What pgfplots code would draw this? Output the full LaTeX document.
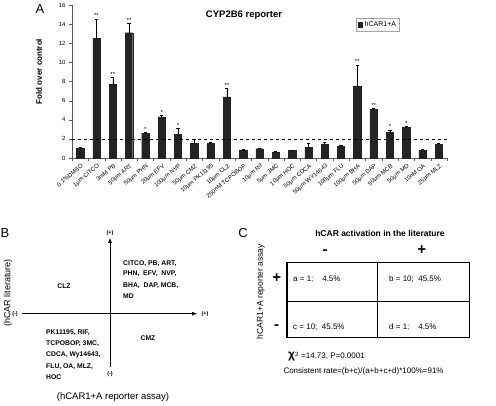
\documentclass[border=0pt]{standalone}
\usepackage{pgfplots}
\pgfplotsset{compat=1.18}
\usepackage{pgfplotstable}
\usepackage{fontspec}
\setmainfont{Liberation Sans}
\usetikzlibrary{arrows.meta}
\definecolor{barc}{RGB}{35,35,35}
\definecolor{axc}{RGB}{90,90,90}
\pgfplotstableread{
x y e
0 1.0 0.12
1 12.5 2.05
2 7.7 0.75
3 13.1 0.95
4 2.6 0.06
5 4.3 0.15
6 2.5 0.6
7 1.55 0.4
8 1.5 0.15
9 6.4 0.9
10 0.85 0.02
11 0.97 0.1
12 0.63 0.03
13 0.77 0.03
14 1.15 0.35
15 1.45 0.2
16 1.2 0.1
17 7.55 2.2
18 5.1 0.1
19 2.65 0.3
20 3.18 0.1
21 0.8 0.1
22 1.45 0.1
}\bars
\pgfplotstableread{
x t s
1 14.55 **
2 8.45 **
3 14.05 **
4 2.66 *
5 4.45 *
6 3.1 *
9 7.3 **
17 9.75 **
18 5.2 **
19 2.95 *
20 3.28 *
}\stars
\begin{document}
\begin{tikzpicture}[x=1pt,y=1pt]
\useasboundingbox (0,0) rectangle (496,405);
% ---------------- Panel A ----------------
\begin{axis}[
  at={(72pt,247pt)}, anchor=south west,
  width=375pt, height=153pt, scale only axis,
  xmin=-0.5, xmax=22.5, ymin=0, ymax=16,
  axis x line*=bottom, axis y line*=left,
  axis line style={axc, line width=0.6pt},
  ytick={0,2,...,16},
  xtick={0,...,22},
  xticklabels={0.1\%DMSO, 1μm CITCO, 3mM PB, 50μm ART, 50μm PHN, 20μm EFV, 100μm NVP, 50μm CMZ, 10μm PK11195, 10μm CLZ, 250nM TCPOBOP, 10μm Rif, 5μm 3MC, 10μm HOC, 50μm CDCA, 50μm WY14643, 100μm FLU, 100μm BHA, 50μm DAP, 50μm MCB, 50μm MD, 10nM OA, 25μm MLZ},
  x tick label style={rotate=40, anchor=north east, font=\fontsize{6}{6}\selectfont, inner sep=1pt, yshift=-1pt},
  major x tick style={draw=none},
  minor xtick={-0.5,0.5,...,22.5},
  minor x tick style={axc},
  minor tick length=3pt,
  major tick length=3pt,
  tick align=outside,
  y tick style={axc},
  y tick label style={font=\fontsize{6}{7}\selectfont},
  /pgf/number format/assume math mode=true,
  ylabel={Fold over control},
  ylabel style={font=\bfseries\fontsize{8}{9}\selectfont, at={(axis description cs:-0.088,0.565)}, anchor=center},
  legend style={at={(0.816,0.87)}, anchor=center, font=\fontsize{7}{8}\selectfont, draw=gray!70, inner sep=1.5pt, legend cell align=left},
  legend image code/.code={\fill[barc] (0pt,-2.2pt) rectangle (4.4pt,2.2pt);},
  clip=false,
]
\addplot[ybar, bar width=7.3pt, fill=barc, draw=barc,
  error bars/.cd, y dir=plus, y explicit, error bar style={black, line width=0.5pt}, error mark options={rotate=90, mark size=1.6pt, black}]
  table[x=x, y=y, y error=e] {\bars};
\addlegendentry{hCAR1+A}
\addplot[forget plot, only marks, mark=none, nodes near coords, point meta=explicit symbolic,
  nodes near coords style={anchor=south, font=\fontsize{6}{6}\selectfont, inner sep=0.8pt}]
  table[x=x, y=t, meta=s] {\stars};
\addplot[forget plot, black, dashed, line width=0.6pt] coordinates {(-0.5,2) (22.5,2)};
\end{axis}
\node[font=\bfseries\fontsize{9.5}{10}\selectfont] at (244,390) {CYP2B6 reporter};
\node[font=\fontsize{13}{14}\selectfont] at (40,396) {A};
% ---------------- Panel B ----------------
\node[font=\fontsize{13}{14}\selectfont] at (5,172) {B};
\draw[line width=0.6pt, -{Latex[length=5pt,width=4pt]}] (22,91.3) -- (197,91.3);
\draw[line width=0.6pt, -{Latex[length=5pt,width=4pt]}] (110,38) -- (110,167);
\node[font=\bfseries\fontsize{5.5}{6}\selectfont] at (15,91.3) {(-)};
\node[font=\bfseries\fontsize{5.5}{6}\selectfont] at (205,91.3) {(+)};
\node[font=\bfseries\fontsize{5.5}{6}\selectfont] at (110,172) {(+)};
\node[font=\bfseries\fontsize{5.5}{6}\selectfont] at (110,31) {(-)};
\begin{scope}[every node/.style={font=\bfseries\fontsize{6.8}{7}\selectfont, anchor=west, inner sep=0pt}]
\node at (123,141.7) {CITCO, PB, ART,};
\node at (123,131) {PHN, \ EFV, \ NVP,};
\node at (123,119.7) {BHA, \ DAP, MCB,};
\node at (123,109) {MD};
\node at (46,72.3) {PK11195, RIF,};
\node at (46,61) {TCPOBOP, 3MC,};
\node at (46,50) {CDCA, Wy14643,};
\node at (46,38.3) {FLU, OA, MLZ,};
\node at (46,27.7) {HOC};
\end{scope}
\node[font=\bfseries\fontsize{6.8}{7}\selectfont] at (64,119.3) {CLZ};
\node[font=\bfseries\fontsize{6.8}{7}\selectfont] at (148,66.7) {CMZ};
\node[font=\fontsize{9}{10}\selectfont, rotate=90] at (8,112) {(hCAR literature)};
\node[font=\fontsize{9.5}{10}\selectfont] at (113,8) {(hCAR1+A reporter assay)};
% ---------------- Panel C ----------------
\node[font=\fontsize{13}{14}\selectfont] at (243,172) {C};
\draw[line width=0.8pt] (377.3,142.3) -- (377.3,67.7);
\draw[line width=0.8pt] (286.7,104) -- (469.3,104);
\draw[line width=1.6pt] (286.7,142.3) rectangle (469.3,67.7);
\node[font=\bfseries\fontsize{8.5}{9}\selectfont] at (380,171.7) {hCAR activation in the literature};
\node[font=\bfseries\fontsize{15}{16}\selectfont] at (325,153.3) {-};
\node[font=\bfseries\fontsize{15}{16}\selectfont] at (421.7,155) {+};
\node[font=\bfseries\fontsize{15}{16}\selectfont] at (276.7,126.7) {+};
\node[font=\bfseries\fontsize{15}{16}\selectfont] at (276.7,77.7) {-};
\node[font=\fontsize{8.5}{9}\selectfont, rotate=90] at (260.7,113.3) {hCAR1+A reporter assay};
\begin{scope}[every node/.style={font=\fontsize{8}{9}\selectfont, anchor=west, inner sep=0pt}]
\node at (293,125.7) {a = 1; \ \ \ 4.5\%};
\node at (389,125.7) {b = 10; \ 45.5\%};
\node at (293,77.7) {c = 10; \ 45.5\%};
\node at (389,77.7) {d = 1; \ \ \ 4.5\%};
\node at (288,48.3) {{\bfseries\fontsize{12}{12}\selectfont χ}\textsuperscript{2} =14.73, P=0.0001};
\node at (283.3,33.3) {Consistent rate=(b+c)/(a+b+c+d)*100\%=91\%};
\end{scope}
\end{tikzpicture}
\end{document}
